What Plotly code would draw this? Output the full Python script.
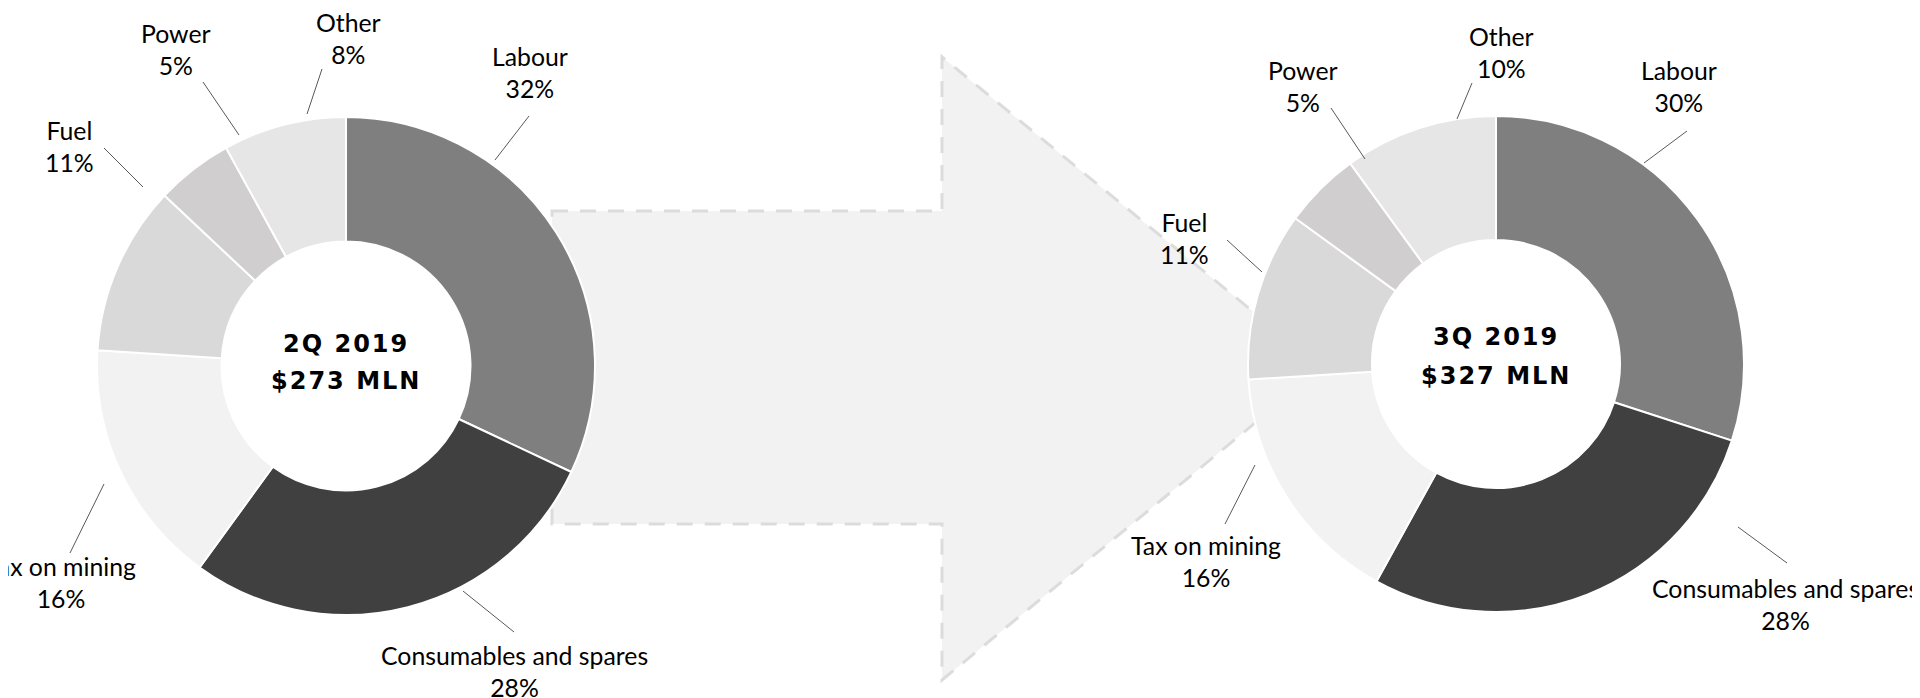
import plotly.graph_objects as go

# ---------------- data ----------------
categories = ["Labour", "Consumables and spares", "Tax on mining", "Fuel", "Power", "Other"]
values_2q = [32, 28, 16, 11, 5, 8]
values_3q = [30, 28, 16, 11, 5, 10]
period_2q = "2Q 2019"
period_3q = "3Q 2019"
total_2q = "$273 MLN"
total_3q = "$327 MLN"

# ---------------- styles / layout ----------------
colors = ["#7f7f7f", "#404040", "#f2f2f2", "#d9d9d9", "#d0cece", "#e7e6e6"]
W, H = 1920, 698
OFFSET = 8  # page body margin of the html page
LABEL_FONT = dict(family="Lato, Calibri, Carlito, sans-serif", size=24.8, color="#000000")
CENTER_FONT = dict(family="DejaVu Sans, sans-serif", size=24, color="#000000", weight="bold")


def px(x):
    return (x - OFFSET) / W


def py(y):
    return 1 - (y - OFFSET) / H


# pie placement (pixel centre, radius) and centre text line positions
pies = [
    dict(values=values_2q, cx=346, cy=366, r=249, lines=[period_2q, total_2q], ly=[344, 381]),
    dict(values=values_3q, cx=1496, cy=364, r=248, lines=[period_3q, total_3q], ly=[337, 376]),
]

# label block centres (pixels) and leader lines (pixels), per pie, in category order
label_pos = [
    [(530, 72), (514, 671), (61, 582), (69, 146), (176, 50), (348, 38)],
    [(1679, 86), (1785, 604), (1206, 561), (1184, 238), (1303, 86), (1501, 53)],
]
leader = [
    [((529, 116), (495, 160)), ((514, 632), (463, 591)), ((70, 553), (104, 484)),
     ((104, 148), (143, 187)), ((203, 82), (239, 135)), ((322, 69), (307, 114))],
    [((1687, 131), (1644, 163)), ((1738, 527), (1787, 563)), ((1225, 524), (1255, 465)),
     ((1227, 240), (1262, 272)), ((1331, 108), (1365, 159)), ((1472, 83), (1457, 119))],
]

fig = go.Figure()

for p in pies:
    fig.add_trace(go.Pie(
        labels=categories,
        values=p["values"],
        hole=0.5,
        sort=False,
        direction="clockwise",
        rotation=0,
        textinfo="none",
        marker=dict(colors=colors, line=dict(color="#ffffff", width=2)),
        domain=dict(x=[px(p["cx"] - p["r"]), px(p["cx"] + p["r"])],
                    y=[py(p["cy"] + p["r"]), py(p["cy"] - p["r"])]),
        showlegend=False,
        hoverinfo="label+percent",
    ))

# background arrow (pixels)
body_x0, body_x1, body_y0, body_y1 = 552, 942, 211, 524
head_y0, head_y1, tip_x, tip_y = 57, 680, 1322, 368
arrow_pts = [(body_x0, body_y0), (body_x1, body_y0), (body_x1, head_y0), (tip_x, tip_y),
             (body_x1, head_y1), (body_x1, body_y1), (body_x0, body_y1)]
path = "M " + " L ".join(f"{px(x)},{py(y)}" for x, y in arrow_pts) + " Z"
shapes = [dict(type="path", path=path, xref="paper", yref="paper", layer="below",
               fillcolor="#f2f2f2", line=dict(color="#dcdcdc", width=3, dash="16px,12px"))]

annotations = []
for i, p in enumerate(pies):
    for j, cat in enumerate(categories):
        lx, ly = label_pos[i][j]
        annotations.append(dict(
            x=px(lx), y=py(ly), xref="paper", yref="paper",
            text=f"{cat}<br>{p['values'][j]}%", showarrow=False,
            xanchor="center", yanchor="middle", align="center", font=LABEL_FONT,
        ))
        (x0, y0), (x1, y1) = leader[i][j]
        shapes.append(dict(type="line", xref="paper", yref="paper",
                           x0=px(x0), y0=py(y0), x1=px(x1), y1=py(y1),
                           line=dict(color="#595959", width=1)))
    for line_text, line_y in zip(p["lines"], p["ly"]):
        annotations.append(dict(
            x=px(p["cx"]), y=py(line_y), xref="paper", yref="paper",
            text=f'<span style="letter-spacing:2px">{line_text}</span>',
            showarrow=False, xanchor="center", yanchor="middle",
            align="center", font=CENTER_FONT,
        ))

fig.update_layout(
    width=W, height=H,
    margin=dict(l=0, r=0, t=0, b=0),
    paper_bgcolor="#ffffff",
    plot_bgcolor="#ffffff",
    shapes=shapes,
    annotations=annotations,
)

fig.write_html("out.html")
